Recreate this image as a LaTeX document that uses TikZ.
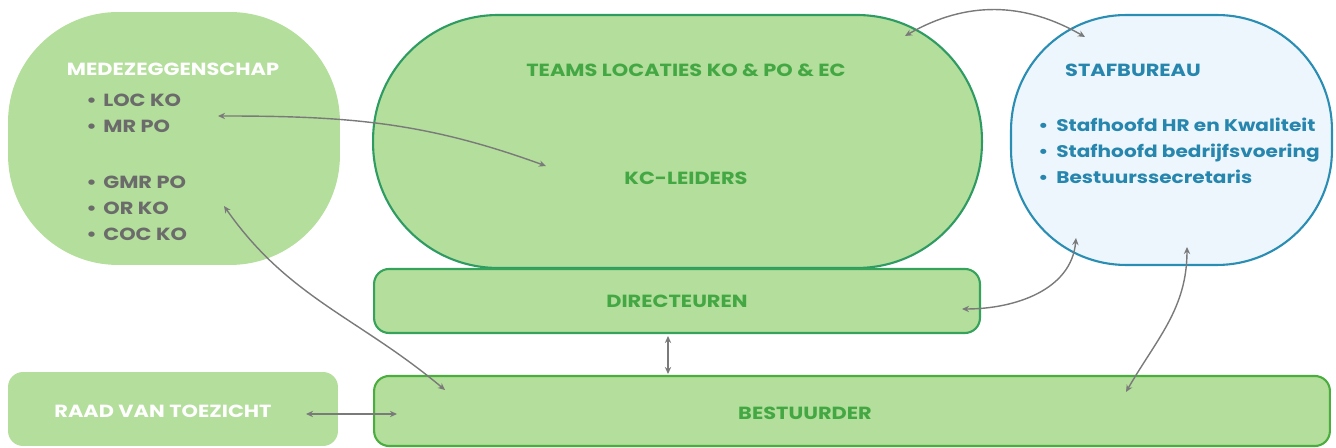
\documentclass[tikz,border=0pt]{standalone}
\usepackage{fontspec}
\setmainfont{Poppins}[FakeStretch=1.19]
\usetikzlibrary{arrows.meta}

\definecolor{leaf}{HTML}{B4DE9B}
\definecolor{leaftext}{HTML}{43A843}
\definecolor{teamline}{HTML}{2E9B62}
\definecolor{dirline}{HTML}{36A35C}
\definecolor{bestline}{HTML}{4AAE3E}
\definecolor{stafback}{HTML}{EDF6FC}
\definecolor{stafline}{HTML}{2A8DB4}
\definecolor{staftext}{HTML}{2786AE}
\definecolor{itemgray}{HTML}{6B6B6B}
\definecolor{arrowgray}{HTML}{7A7A7A}

\tikzset{
  blob/.style={rectangle, fill=leaf, inner sep=0pt},
  bar/.style={blob, rounded corners=0.3cm},
  head/.style={inner sep=0pt, font=\fontsize{10}{12}\selectfont\bfseries},
  item/.style={inner sep=0pt, anchor=base west, font=\fontsize{10}{12}\selectfont\bfseries},
  link/.style={draw=arrowgray, line width=0.8pt, >={Stealth[length=4pt,width=3.6pt]}, <->}
}

\begin{document}
\begin{tikzpicture}[x=0.02cm, y=-0.02cm]
\useasboundingbox (0,0) rectangle (1336,448);

% blocks
\node[blob, minimum width=6.64cm, minimum height=5.06cm, rounded corners=2.2cm] (mz) at (174,138.5) {};
\node[blob, draw=teamline, line width=1.2pt, minimum width=12.18cm, minimum height=5.06cm, rounded corners=2.5cm] (teams) at (677.5,141.5) {};
\node[blob, fill=stafback, draw=stafline, line width=1.2pt, minimum width=6.42cm, minimum height=5cm, rounded corners=2.3cm] (staf) at (1171.5,140) {};
\node[bar, draw=dirline, line width=1.2pt, minimum width=12.12cm, minimum height=1.28cm] (dir) at (677,301) {};
\node[bar, minimum width=6.6cm, minimum height=1.48cm] (raad) at (173,409) {};
\node[bar, draw=bestline, line width=1.2pt, minimum width=19.12cm, minimum height=1.4cm] (best) at (852,411) {};

% titles
\node[head, text=white] (mzhead) at (173,69) {MEDEZEGGENSCHAP};
\node[head, text=leaftext] (teamshead) at (686,70) {TEAMS LOCATIES KO \& PO \& EC};
\node[head, text=leaftext] (kc) at (686,178) {KC-LEIDERS};
\node[head, text=staftext] (stafhead) at (1133,70) {STAFBUREAU};
\node[head, text=leaftext] (dirtext) at (677,301) {DIRECTEUREN};
\node[head, text=white] (raadtext) at (163,411) {RAAD VAN TOEZICHT};
\node[head, text=leaftext] (besttext) at (805,413) {BESTUURDER};

% lists
\foreach \t/\y [count=\i] in {LOC KO/107, MR PO/133, GMR PO/189, OR KO/215, COC KO/241}
  \node[item, text=itemgray] (mzitem\i) at (86,\y) {\makebox[0.34cm][l]{•}\t};
\foreach \t/\y [count=\i] in {Stafhoofd HR en Kwaliteit/132, Stafhoofd bedrijfsvoering/158, Bestuurssecretaris/184}
  \node[item, text=staftext, font=\fontsize{9.6}{12}\selectfont\bfseries] (stafitem\i) at (1038,\y) {\makebox[0.36cm][l]{•}\t};

% connector ends
\coordinate (mzA) at (218,116);
\coordinate (kcA) at (546,166);
\coordinate (mzB) at (224,206);
\coordinate (bestA) at (445,390);
\coordinate (teamsA) at (905,36);
\coordinate (stafA) at (1085,37);
\coordinate (stafB) at (1076,238);
\coordinate (dirA) at (962,309);
\coordinate (stafC) at (1187,247);
\coordinate (bestB) at (1126,392);
\coordinate (dirB) at (668,336);
\coordinate (bestC) at (668,374);
\coordinate (raadA) at (306,414);
\coordinate (bestD) at (397,414);

\draw[link] (mzA) to [out=0, in=160] (kcA);
\draw[link] (mzB) to [out=-55, in=140] (bestA);
\draw[link] (teamsA) to [out=30, in=150] (stafA);
\draw[link] (dirA) to [out=0, in=-95] (stafB);
\draw[link] (stafC) to [out=-90, in=60] (bestB);
\draw[link] (dirB) -- (bestC);
\draw[link] (raadA) -- (bestD);
\end{tikzpicture}
\end{document}
